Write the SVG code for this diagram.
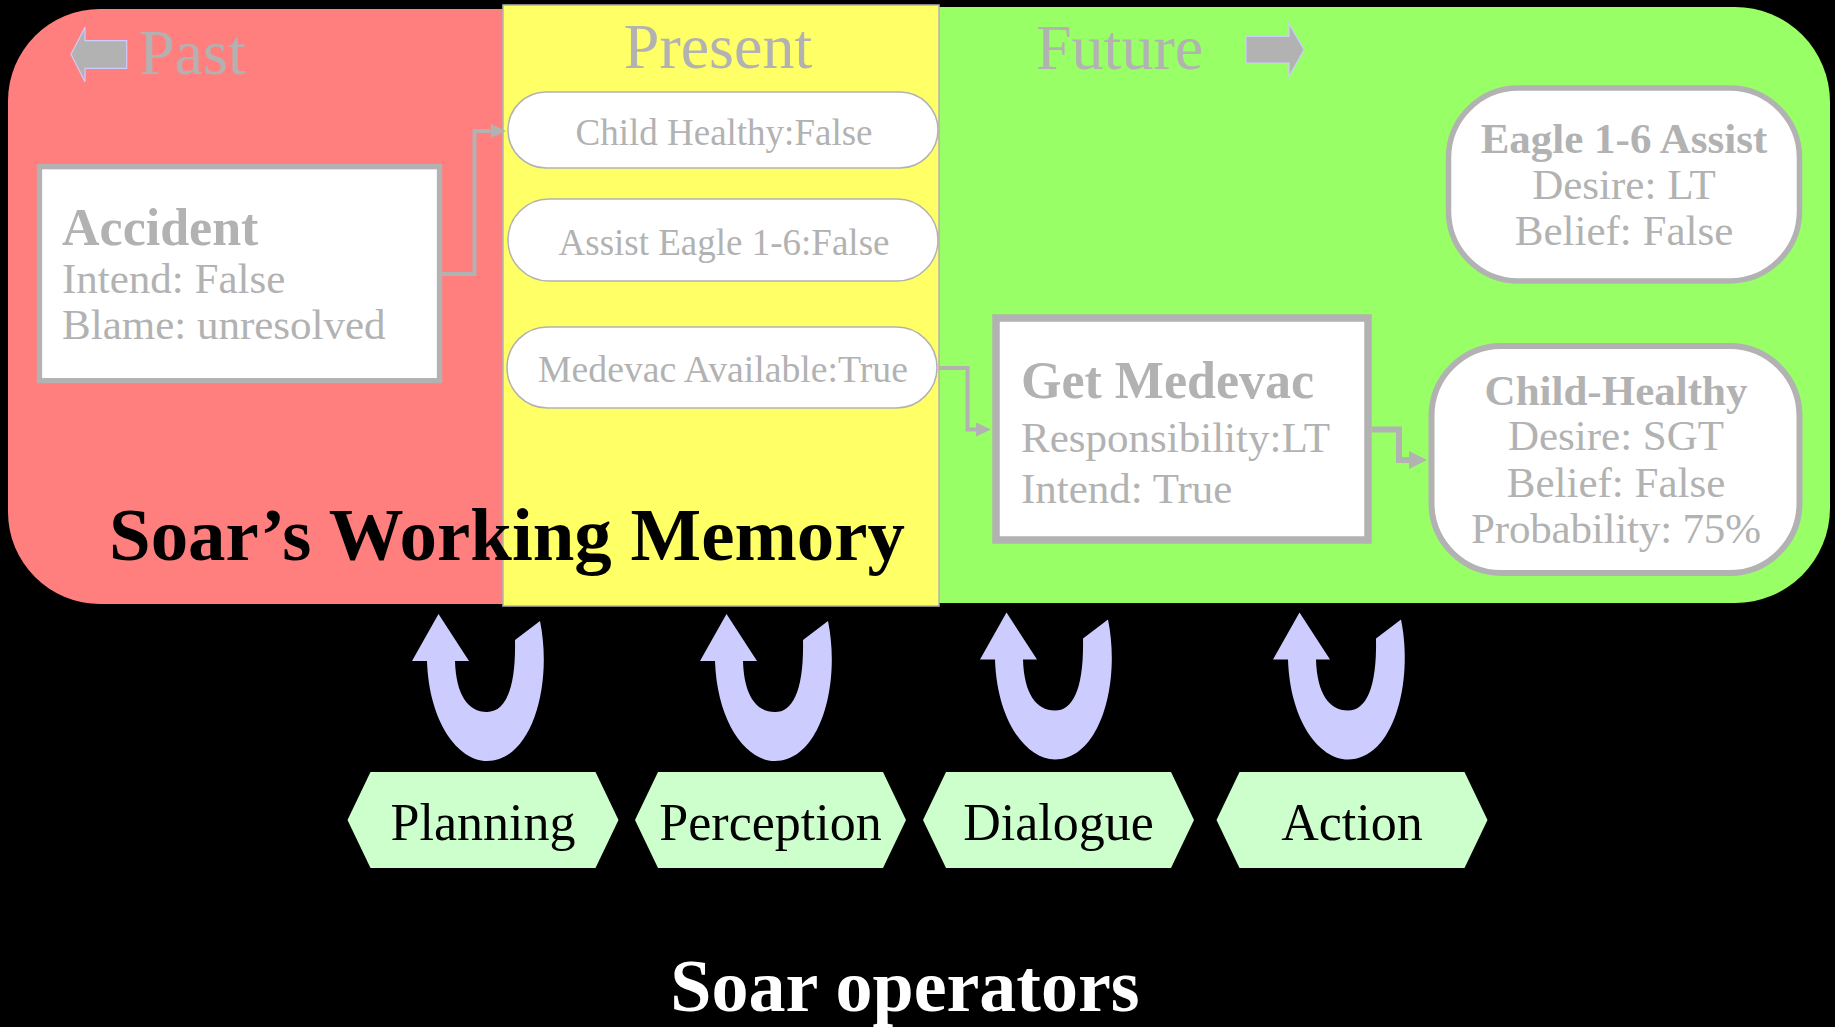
<svg xmlns="http://www.w3.org/2000/svg" width="1835" height="1027" viewBox="0 0 1835 1027">
  <style>
    text { font-family: "Liberation Serif", "Times New Roman", serif; }
    .faint { fill: #B2B2B2; }
    .head { font-size: 64px; }
    .pill { fill: #FFFFFF; stroke: #B2B2B2; stroke-width: 1.5; }
    .pilltxt { font-size: 37px; text-anchor: middle; }
    .title { font-size: 52px; font-weight: bold; }
    .attr { font-size: 43px; }
    .ctr { text-anchor: middle; }
    .box { fill: #FFFFFF; stroke: #B2B2B2; }
    .link { fill: none; stroke: #B2B2B2; }
    .timearrow { fill: #B2B2B2; stroke: #CCCCFF; stroke-width: 1.2; }
    .hex { fill: #CCFFCC; }
    .oplabel { font-size: 52px; text-anchor: middle; fill: #000000; }
    .uturn { fill: #CCCCFF; }
  </style>
  <defs>
    <marker id="headSmall" markerUnits="userSpaceOnUse" markerWidth="16" markerHeight="14" refX="1" refY="7" orient="auto">
      <path d="M0,0 L15,7 L0,14 Z" fill="#B2B2B2"/>
    </marker>
    <marker id="headLarge" markerUnits="userSpaceOnUse" markerWidth="19" markerHeight="19" refX="1" refY="9" orient="auto">
      <path d="M0,0 L18,9 L0,18 Z" fill="#B2B2B2"/>
    </marker>
    <!-- U-shaped cycle arrow, drawn once and reused under each operator -->
    <path id="cycle" class="uturn" d="M438.5,614 L469,661 L455,661 C456,695 468,712 487,712 C505,712 516,690 515,640 L540,621 C553,685 532,761 487,761 C458,761 429,722 427,661 L412,661 Z"/>
  </defs>

  <rect x="0" y="0" width="1835" height="1027" fill="#000000"/>

  <!-- working memory bands: past / future, present on top -->
  <g id="memory">
    <rect id="past-band" x="8" y="9" width="700" height="595" rx="92" ry="92" fill="#FF7F7F"/>
    <rect id="future-band" x="800" y="7" width="1030" height="596" rx="95" ry="95" fill="#99FF66"/>
    <rect id="present-band" x="503" y="5" width="436" height="601" fill="#FFFF66" stroke="#B2B2B2" stroke-width="1.5"/>
  </g>

  <!-- time headers -->
  <g id="headers">
    <path id="past-arrow" class="timearrow" d="M71,54.3 L85,27.3 L85,40.7 L126.7,40.7 L126.7,68.3 L85,68.3 L85,81.7 Z"/>
    <text class="faint head" x="139" y="74">Past</text>
    <text class="faint head ctr" x="718" y="68">Present</text>
    <text class="faint head" x="1036" y="69">Future</text>
    <path id="future-arrow" class="timearrow" d="M1246,36.4 L1289,36.4 L1289,23.7 L1304,49.8 L1289,76.5 L1289,63.1 L1246,63.1 Z"/>
  </g>

  <!-- connectors -->
  <g id="connectors">
    <path class="link" stroke-width="4" d="M442,274 H474.5 V131 H492" marker-end="url(#headSmall)"/>
    <path class="link" stroke-width="4" d="M939,368 H967.5 V429.5 H977" marker-end="url(#headSmall)"/>
    <path class="link" stroke-width="6" d="M1372,429.5 H1399 V460 H1410" marker-end="url(#headLarge)"/>
  </g>

  <!-- past -->
  <g id="accident">
    <rect class="box" x="39.5" y="166.7" width="400" height="214" stroke-width="5.3"/>
    <text class="faint title" x="62" y="245">Accident</text>
    <text class="faint attr" x="62" y="293">Intend: False</text>
    <text class="faint attr" x="62" y="339">Blame: unresolved</text>
  </g>

  <!-- present -->
  <g id="child-healthy-state">
    <rect class="pill" x="508" y="92" width="430" height="76" rx="38" ry="38"/>
    <text class="faint pilltxt" x="724" y="145">Child Healthy:False</text>
  </g>
  <g id="assist-eagle-state">
    <rect class="pill" x="508" y="199" width="430" height="82" rx="41" ry="41"/>
    <text class="faint pilltxt" x="724" y="255">Assist Eagle 1-6:False</text>
  </g>
  <g id="medevac-state">
    <rect class="pill" x="507" y="327" width="430" height="81" rx="40.5" ry="40.5"/>
    <text class="faint pilltxt" x="723" y="382" textLength="370" lengthAdjust="spacingAndGlyphs">Medevac Available:True</text>
  </g>

  <!-- future -->
  <g id="eagle-assist">
    <rect class="box" x="1448.5" y="88" width="351" height="193" rx="70" ry="70" stroke-width="5.5"/>
    <text class="faint attr ctr" x="1624" y="153" font-weight="bold">Eagle 1-6 Assist</text>
    <text class="faint attr ctr" x="1624" y="199">Desire: LT</text>
    <text class="faint attr ctr" x="1624" y="245">Belief: False</text>
  </g>
  <g id="get-medevac">
    <rect class="box" x="996" y="318" width="372" height="222" stroke-width="7.5"/>
    <text class="faint title" x="1021" y="398">Get Medevac</text>
    <text class="faint attr" x="1021" y="452">Responsibility:LT</text>
    <text class="faint attr" x="1021" y="503">Intend: True</text>
  </g>
  <g id="child-healthy-goal">
    <rect class="box" x="1431.5" y="346" width="368" height="227" rx="70" ry="70" stroke-width="6"/>
    <text class="faint attr ctr" x="1616" y="405" font-weight="bold">Child-Healthy</text>
    <text class="faint attr ctr" x="1616" y="450">Desire: SGT</text>
    <text class="faint attr ctr" x="1616" y="497">Belief: False</text>
    <text class="faint attr ctr" x="1616" y="543" textLength="290" lengthAdjust="spacing">Probability: 75%</text>
  </g>

  <text id="memory-caption" x="109" y="560" font-size="74" font-weight="bold" fill="#000000" textLength="796" lengthAdjust="spacingAndGlyphs">Soar’s Working Memory</text>

  <!-- operators -->
  <g id="planning">
    <use href="#cycle"/>
    <polygon class="hex" points="347.5,820 370.5,772 595.5,772 618.5,820 595.5,868 370.5,868"/>
    <text class="oplabel" x="483" y="840">Planning</text>
  </g>
  <g id="perception">
    <use href="#cycle" transform="translate(288,0)"/>
    <polygon class="hex" points="635,820 658,772 883,772 906,820 883,868 658,868"/>
    <text class="oplabel" x="770.5" y="840">Perception</text>
  </g>
  <g id="dialogue">
    <use href="#cycle" transform="translate(568,-1.5)"/>
    <polygon class="hex" points="923,820 946,772 1171,772 1194,820 1171,868 946,868"/>
    <text class="oplabel" x="1058.5" y="840">Dialogue</text>
  </g>
  <g id="action">
    <use href="#cycle" transform="translate(861,-1.5)"/>
    <polygon class="hex" points="1216.5,820 1239.5,772 1464.5,772 1487.5,820 1464.5,868 1239.5,868"/>
    <text class="oplabel" x="1352" y="840">Action</text>
  </g>

  <text id="operators-caption" x="905" y="1011" font-size="74" font-weight="bold" fill="#FFFFFF" text-anchor="middle">Soar operators</text>
</svg>
